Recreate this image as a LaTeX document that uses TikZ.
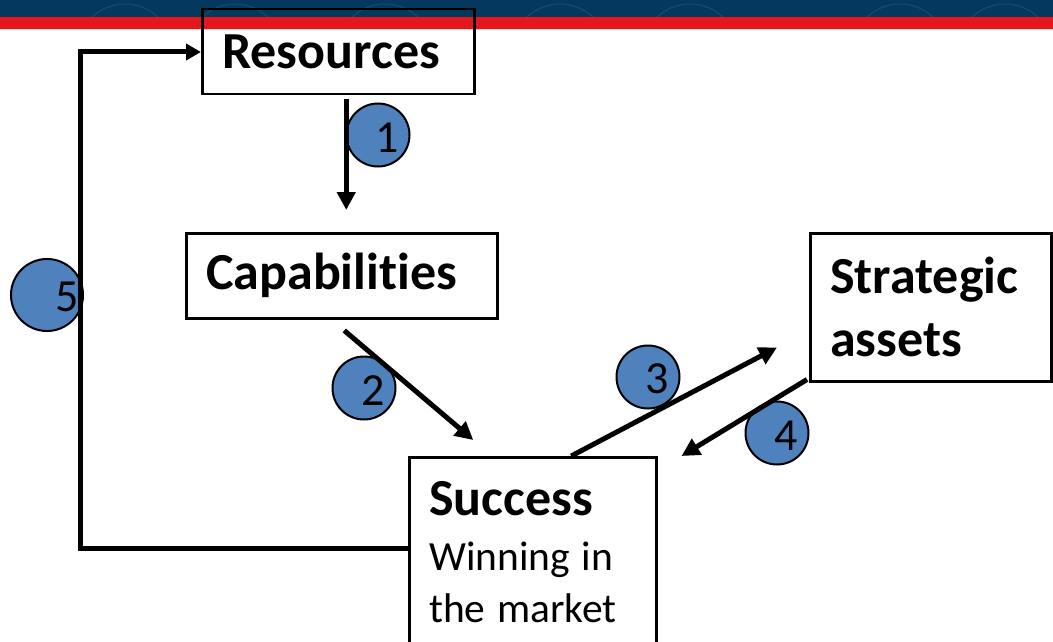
\documentclass[tikz,border=0pt]{standalone}
\usepackage{fontspec}
\setmainfont{Carlito}[Ligatures={NoCommon},RawFeature={-liga}]
\usetikzlibrary{arrows.meta,calc}

\definecolor{bannerblue}{RGB}{4,56,92}
\definecolor{bannerred}{RGB}{228,24,28}
\definecolor{dotblue}{RGB}{79,129,189}

\tikzset{
  stage/.style={draw,line width=2.5pt,anchor=north west,inner xsep=20pt,inner ysep=0pt,
    align=left,font=\fontsize{52}{63}\selectfont\bfseries,
    execute at begin node={\rightskip=0pt plus 1fil\spaceskip=.226em\xspaceskip=.226em}},
  flow/.style={line width=5pt,-{Triangle[length=18pt,width=18pt]}},
  numdot/.style={circle,draw,line width=2pt,fill=dotblue,minimum size=63pt,inner sep=0pt,
    text height=34pt,font=\fontsize{46}{46}\selectfont,execute at begin node={\hspace{19pt}}},
}

\begin{document}
\begin{tikzpicture}[x=1pt,y=-1pt]
\useasboundingbox (0,0) rectangle (1053,642);
\clip (0,0) rectangle (1053,642);
% header band
\fill[bannerblue] (0,0) rectangle (1053,17);
\begin{scope}
  \clip (0,0) rectangle (1053,17);
  \foreach \cx in {125,235,385,560,690,900,1005}
    \draw[cyan!50!bannerblue,line width=1pt,opacity=.3] (\cx,52) circle (48);
\end{scope}
\fill[bannerred] (0,17) rectangle (1053,29);
\fill[bannerred!20] (0,29) rectangle (1053,30.5);

% numbered steps
\node[numdot] (n1) at (378,135) {1};
\node[numdot] (n2) at (364,388) {2};
\node[numdot] (n3) at (648,377) {3};
\node[numdot] (n4) at (777,433) {4};
\node[numdot,execute at begin node={\hspace{21pt}}] (n5) at (47,295) {5};

% boxes
\node[stage,text width=232pt,minimum height=85pt] (res) at (201,8) {Resources};
\node[stage,text width=271pt,minimum height=85pt] (cap) at (185,232) {Capabilities};
\node[stage,text width=201pt,minimum height=148pt] (sa) at (809,232) {Strategic\\assets};
\node[stage,text width=207pt,minimum height=190pt] (suc) at (408,456)
  {Success\\[3pt]\mdseries\fontsize{41.5}{52}\selectfont Winning in\\the market\par};

% arrows
\draw[flow] ($(res.south)+(8,4)$) -- ($(cap.north)+(4.5,-22)$);
\draw[flow] ($(cap.south)+(2.5,11)$) -- ($(suc.north)+(-59.5,-16)$);
\draw[flow] ($(suc.north)+(38.5,0)$) -- ($(sa.south west)+(-32,-35)$);
\draw[flow] ($(sa.south west)+(-2,-3)$) -- ($(suc.north east)+(24,0)$);

% feedback loop
\coordinate (turn) at (80,52);
\draw[line width=5pt,-{Triangle[length=15pt,width=16pt]}]
  ($(suc.north west)+(0,92)$) -| (turn) -- (turn -| res.west);
\end{tikzpicture}
\end{document}
